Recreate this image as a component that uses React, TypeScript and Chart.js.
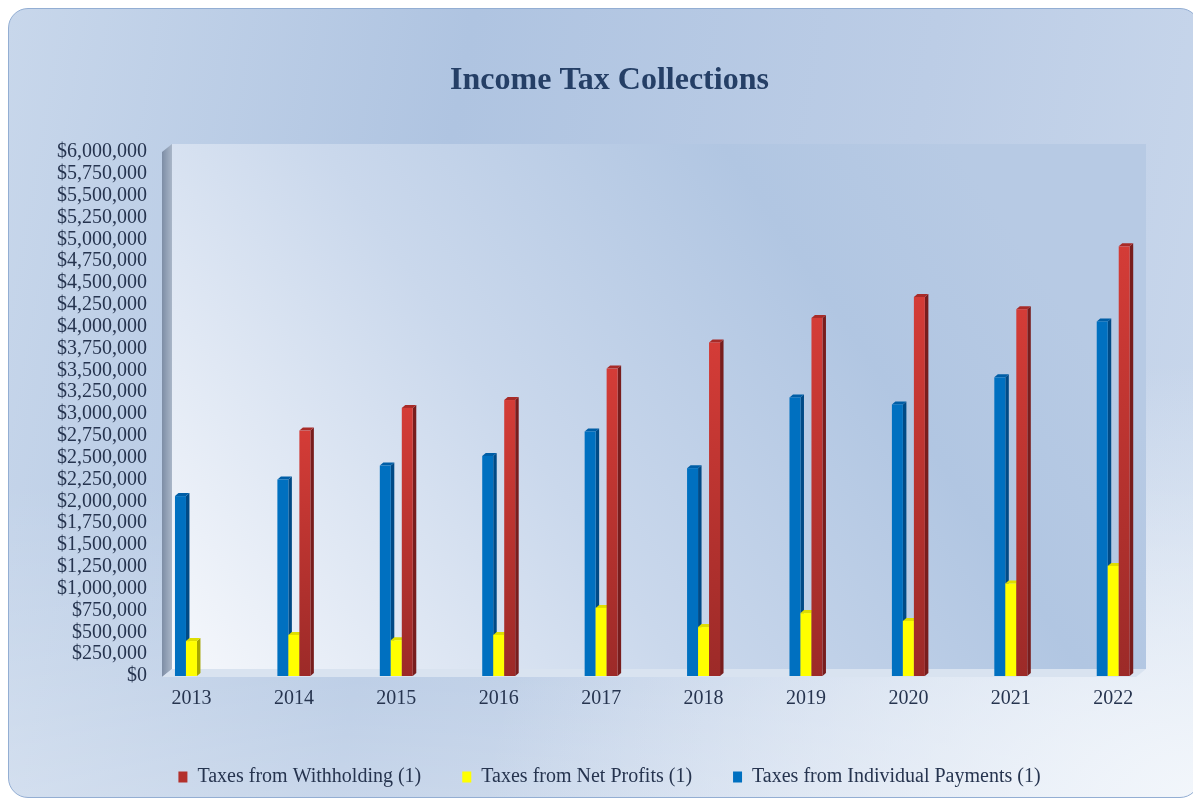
import React, { useEffect, useRef } from 'react';
import { Chart, registerables } from 'chart.js';

Chart.register(...registerables);

const years = ['2013', '2014', '2015', '2016', '2017', '2018', '2019', '2020', '2021', '2022'];
const individualPayments = [2060000, 2250000, 2410000, 2520000, 2800000, 2380000, 3190000, 3110000, 3420000, 4060000];
const netProfits = [400000, 470000, 410000, 470000, 780000, 560000, 720000, 630000, 1060000, 1260000];
const withholding = [null, 2810000, 3070000, 3160000, 3520000, 3820000, 4100000, 4340000, 4200000, 4920000];
const yMax = 6000000;
const yStep = 250000;

const FONT = '"Liberation Serif", "Times New Roman", serif';
const TEXT = '#26344f';

const faceStyles = [
  { front: '#0070c0', frontBottom: '#0070c0', side: '#004a86', top: '#005ea6' },
  { front: '#ffff00', frontBottom: '#ffff00', side: '#a6a600', top: '#dede00' },
  { front: '#d43c37', frontBottom: '#9c2a28', side: '#781d1d', top: '#a82b28' },
];

const DX = 3.5;
const DY = 3;

const threeD = {
  id: 'threeD',
  beforeDraw(chart: any) {
    const { ctx, chartArea } = chart;
    const { left: L, right: R, top: T, bottom: B } = chartArea;
    ctx.save();
    // back wall
    const g = ctx.createLinearGradient(L, B, L + (R - L) * 0.8, T - 8);
    g.addColorStop(0, '#f6f8fc');
    g.addColorStop(0.45, '#cad8ec');
    g.addColorStop(0.8, '#b1c6e2');
    g.addColorStop(1, '#b7cae4');
    ctx.fillStyle = g;
    ctx.fillRect(L, T - 8, R - L, B - 7 - (T - 8));
    // left wall
    const wg = ctx.createLinearGradient(L - 10, 0, L, 0);
    wg.addColorStop(0, '#7d8da5');
    wg.addColorStop(1, '#a9b6c8');
    ctx.fillStyle = wg;
    ctx.beginPath();
    ctx.moveTo(L - 10, T);
    ctx.lineTo(L, T - 8);
    ctx.lineTo(L, B - 7);
    ctx.lineTo(L - 10, B + 1);
    ctx.closePath();
    ctx.fill();
    // floor
    ctx.fillStyle = '#d9e3f0';
    ctx.beginPath();
    ctx.moveTo(L - 10, B + 1);
    ctx.lineTo(L, B - 7);
    ctx.lineTo(R, B - 7);
    ctx.lineTo(R - 10, B + 1);
    ctx.closePath();
    ctx.fill();
    ctx.restore();
  },
  beforeDatasetsDraw(chart: any) {
    const ctx = chart.ctx;
    ctx.save();
    chart.data.datasets.forEach((ds: any, di: number) => {
      const meta = chart.getDatasetMeta(di);
      if (meta.hidden) return;
      const st = faceStyles[di];
      meta.data.forEach((el: any, i: number) => {
        const raw = ds.data[i];
        if (!raw || raw.y == null) return;
        const { x, y, base, width } = el.getProps(['x', 'y', 'base', 'width'], true);
        const l = x - width / 2;
        const r = x + width / 2;
        // side
        ctx.fillStyle = st.side;
        ctx.beginPath();
        ctx.moveTo(r, y);
        ctx.lineTo(r + DX, y - DY);
        ctx.lineTo(r + DX, base - DY);
        ctx.lineTo(r, base);
        ctx.closePath();
        ctx.fill();
        // top
        ctx.fillStyle = st.top;
        ctx.beginPath();
        ctx.moveTo(l, y);
        ctx.lineTo(l + DX, y - DY);
        ctx.lineTo(r + DX, y - DY);
        ctx.lineTo(r, y);
        ctx.closePath();
        ctx.fill();
        // front
        const fg = ctx.createLinearGradient(0, y, 0, base);
        fg.addColorStop(0, st.front);
        fg.addColorStop(1, st.frontBottom);
        ctx.fillStyle = fg;
        ctx.fillRect(l, y, width, base - y);
      });
    });
    ctx.restore();
    return false;
  },
};

const toPoints = (arr: (number | null)[]) => arr.map((v, i) => ({ x: i, y: v }));

export default function App() {
  const ref = useRef<HTMLCanvasElement>(null);

  useEffect(() => {
    const canvas = ref.current;
    if (!canvas) return;
    const chart = new Chart(canvas, {
      type: 'bar',
      data: {
        datasets: [
          {
            label: 'Taxes from Individual Payments (1)',
            data: toPoints(individualPayments) as any,
            backgroundColor: '#0070c0',
            borderWidth: 0,
          },
          {
            label: 'Taxes from Net Profits (1)',
            data: toPoints(netProfits) as any,
            backgroundColor: '#ffff00',
            borderWidth: 0,
          },
          {
            label: 'Taxes from Withholding (1)',
            data: toPoints(withholding) as any,
            backgroundColor: '#b3302c',
            borderWidth: 0,
          },
        ],
      },
      options: {
        responsive: false,
        animation: false,
        categoryPercentage: 0.322,
        barPercentage: 1,
        layout: { padding: { top: 53, left: 48, right: 37, bottom: 0 } },
        plugins: {
          title: {
            display: true,
            text: 'Income Tax Collections',
            color: '#253f66',
            font: { family: FONT, size: 32, weight: 'bold' },
            padding: { top: 0, bottom: 51.6 },
          },
          legend: {
            position: 'bottom',
            reverse: true,
            maxHeight: 72,
            labels: {
              color: TEXT,
              font: { family: FONT, size: 20 },
              boxWidth: 9,
              boxHeight: 11,
              padding: 41,
            },
          },
          tooltip: { enabled: false },
        },
        scales: {
          x: {
            type: 'linear',
            min: -0.19,
            max: 9.32,
            offset: false,
            grid: { display: false, drawTicks: false, offset: false },
            border: { display: false },
            afterFit: (scale: any) => {
              scale.height = 50;
            },
            ticks: {
              stepSize: 1,
              includeBounds: false,
              autoSkip: false,
              maxRotation: 0,
              padding: 11,
              color: TEXT,
              font: { family: FONT, size: 20 },
              callback: (v: any) => (Number.isInteger(v) && years[v] ? years[v] : ''),
            },
          },
          y: {
            min: 0,
            max: yMax,
            grid: { display: false, drawTicks: false },
            border: { display: false },
            afterFit: (scale: any) => {
              scale.width = 115;
            },
            ticks: {
              stepSize: yStep,
              autoSkip: false,
              padding: 25,
              color: TEXT,
              font: { family: FONT, size: 20 },
              callback: (v: any) => '$' + Number(v).toLocaleString('en-US'),
            },
          },
          spacer: {
            type: 'linear',
            position: 'right',
            min: 0,
            max: 1,
            grid: { display: false, drawTicks: false },
            border: { display: false },
            ticks: { display: false },
            afterFit: (scale: any) => {
              scale.width = 16;
            },
          },
        },
      } as any,
      plugins: [threeD],
    });
    return () => chart.destroy();
  }, []);

  return (
    <div
      style={{
        position: 'relative',
        width: 1190,
        height: 788,
        border: '1px solid #93aed3',
        borderRadius: 20,
        overflow: 'hidden',
        background:
          'radial-gradient(ellipse 60% 55% at 100% 100%, rgba(242,246,251,1) 0%, rgba(242,246,251,0) 100%), linear-gradient(to bottom, rgba(255,255,255,0) 60%, rgba(255,255,255,0.3) 100%), linear-gradient(100deg, #c8d7eb 0%, #afc4e1 35%, #bccde6 70%, #cad8ec 100%)',
      }}
    >
      <canvas ref={ref} width={1190} height={788} style={{ position: 'absolute', left: 0, top: 0 }} />
    </div>
  );
}
